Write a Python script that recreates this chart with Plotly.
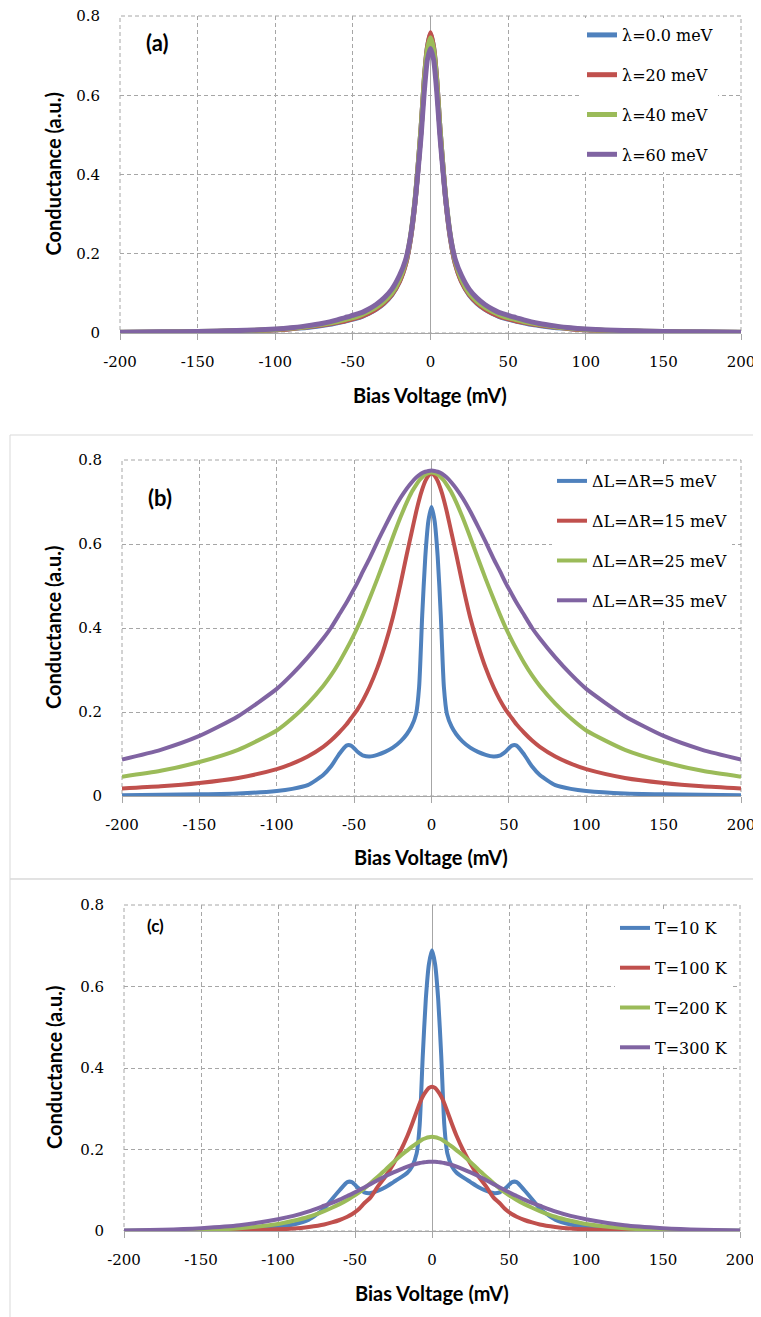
import plotly.graph_objects as go

# the page has an 8px body margin on the top/left, so the figure is shifted by it
W, H = 761, 1317
PAD = 8
FW, FH = W - PAD, H - PAD

# bias voltage grid (mV), same for every curve
bias_mv = [-200, -175, -150, -125, -100, -90, -80, -70, -65, -60, -55, -52, -48, -44, -40, -35, -30, -25, -20, -16, -13, -10, -8, -6, -4, -2,
           0, 2, 4, 6, 8, 10, 13, 16, 20, 25, 30, 35, 40, 44, 48, 52, 55, 60, 65, 70, 80, 90, 100, 125, 150, 175, 200]

# panel (a): spin-orbit lambda
names_a = ['λ=0.0 meV', 'λ=20 meV', 'λ=40 meV', 'λ=60 meV']
a_lam0 = [0.0015, 0.002, 0.003, 0.005, 0.008, 0.011, 0.014, 0.019, 0.022, 0.026, 0.03, 0.033, 0.037, 0.042, 0.049, 0.06, 0.075, 0.096, 0.13, 0.175, 0.235, 0.33, 0.42, 0.52, 0.64, 0.72,
          0.755, 0.72, 0.64, 0.52, 0.42, 0.33, 0.235, 0.175, 0.13, 0.096, 0.075, 0.06, 0.049, 0.042, 0.037, 0.033, 0.03, 0.026, 0.022, 0.019, 0.014, 0.011, 0.008, 0.005, 0.003, 0.002, 0.0015]
a_lam20 = [0.0015, 0.002, 0.003, 0.005, 0.008, 0.011, 0.015, 0.02, 0.023, 0.027, 0.031, 0.034, 0.038, 0.043, 0.05, 0.061, 0.076, 0.097, 0.13, 0.175, 0.235, 0.33, 0.42, 0.52, 0.64, 0.72,
           0.758, 0.72, 0.64, 0.52, 0.42, 0.33, 0.235, 0.175, 0.13, 0.097, 0.076, 0.061, 0.05, 0.043, 0.038, 0.034, 0.031, 0.027, 0.023, 0.02, 0.015, 0.011, 0.008, 0.005, 0.003, 0.002, 0.0015]
a_lam40 = [0.0018, 0.0025, 0.0035, 0.0055, 0.009, 0.012, 0.016, 0.022, 0.025, 0.029, 0.034, 0.037, 0.041, 0.047, 0.054, 0.065, 0.08, 0.1, 0.135, 0.18, 0.24, 0.335, 0.42, 0.52, 0.635, 0.715,
           0.745, 0.715, 0.635, 0.52, 0.42, 0.335, 0.24, 0.18, 0.135, 0.1, 0.08, 0.065, 0.054, 0.047, 0.041, 0.037, 0.034, 0.029, 0.025, 0.022, 0.016, 0.012, 0.009, 0.0055, 0.0035, 0.0025, 0.0018]
a_lam60 = [0.002, 0.003, 0.004, 0.006, 0.01, 0.013, 0.018, 0.024, 0.028, 0.033, 0.039, 0.042, 0.047, 0.052, 0.06, 0.072, 0.088, 0.11, 0.145, 0.185, 0.24, 0.33, 0.41, 0.5, 0.61, 0.69,
           0.718, 0.69, 0.61, 0.5, 0.41, 0.33, 0.24, 0.185, 0.145, 0.11, 0.088, 0.072, 0.06, 0.052, 0.047, 0.042, 0.039, 0.033, 0.028, 0.024, 0.018, 0.013, 0.01, 0.006, 0.004, 0.003, 0.002]

# panel (b): gap delta
names_b = ['ΔL=ΔR=5 meV', 'ΔL=ΔR=15 meV', 'ΔL=ΔR=25 meV', 'ΔL=ΔR=35 meV']
b_d5 = [0.002, 0.003, 0.004, 0.006, 0.012, 0.017, 0.026, 0.05, 0.07, 0.098, 0.12, 0.12, 0.106, 0.096, 0.094, 0.098, 0.105, 0.115, 0.13, 0.147, 0.165, 0.195, 0.26, 0.43, 0.57, 0.655,
        0.688, 0.655, 0.57, 0.43, 0.26, 0.195, 0.165, 0.147, 0.13, 0.115, 0.105, 0.098, 0.094, 0.096, 0.106, 0.12, 0.12, 0.098, 0.07, 0.05, 0.026, 0.017, 0.012, 0.006, 0.004, 0.003, 0.002]
b_d15 = [0.018, 0.023, 0.031, 0.043, 0.064, 0.077, 0.094, 0.117, 0.132, 0.15, 0.17, 0.185, 0.205, 0.23, 0.26, 0.305, 0.36, 0.425, 0.505, 0.575, 0.625, 0.675, 0.705, 0.73, 0.75, 0.763,
         0.768, 0.763, 0.75, 0.73, 0.705, 0.675, 0.625, 0.575, 0.505, 0.425, 0.36, 0.305, 0.26, 0.23, 0.205, 0.185, 0.17, 0.15, 0.132, 0.117, 0.094, 0.077, 0.064, 0.043, 0.031, 0.023, 0.018]
b_d25 = [0.046, 0.06, 0.081, 0.11, 0.156, 0.185, 0.22, 0.262, 0.287, 0.316, 0.349, 0.37, 0.4, 0.434, 0.47, 0.517, 0.566, 0.616, 0.664, 0.699, 0.722, 0.74, 0.751, 0.759, 0.765, 0.769,
         0.77, 0.769, 0.765, 0.759, 0.751, 0.74, 0.722, 0.699, 0.664, 0.616, 0.566, 0.517, 0.47, 0.434, 0.4, 0.37, 0.349, 0.316, 0.287, 0.262, 0.22, 0.185, 0.156, 0.11, 0.081, 0.06, 0.046]
b_d35 = [0.087, 0.11, 0.143, 0.19, 0.255, 0.29, 0.33, 0.375, 0.4, 0.43, 0.46, 0.48, 0.507, 0.537, 0.566, 0.605, 0.642, 0.678, 0.71, 0.732, 0.746, 0.758, 0.764, 0.769, 0.772, 0.774,
         0.775, 0.774, 0.772, 0.769, 0.764, 0.758, 0.746, 0.732, 0.71, 0.678, 0.642, 0.605, 0.566, 0.537, 0.507, 0.48, 0.46, 0.43, 0.4, 0.375, 0.33, 0.29, 0.255, 0.19, 0.143, 0.11, 0.087]

# panel (c): temperature
names_c = ['T=10 K', 'T=100 K', 'T=200 K', 'T=300 K']
c_t10 = [0.0008, 0.001, 0.002, 0.004, 0.01, 0.016, 0.028, 0.055, 0.078, 0.1, 0.12, 0.12, 0.106, 0.095, 0.093, 0.099, 0.108, 0.12, 0.132, 0.143, 0.158, 0.19, 0.26, 0.43, 0.57, 0.655,
         0.689, 0.655, 0.57, 0.43, 0.26, 0.19, 0.158, 0.143, 0.132, 0.12, 0.108, 0.099, 0.093, 0.095, 0.106, 0.12, 0.12, 0.1, 0.078, 0.055, 0.028, 0.016, 0.01, 0.004, 0.002, 0.001, 0.0008]
c_t100 = [0.0001, 0.0002, 0.0006, 0.0015, 0.004, 0.006, 0.01, 0.016, 0.021, 0.027, 0.035, 0.041, 0.052, 0.068, 0.082, 0.11, 0.135, 0.165, 0.2, 0.233, 0.262, 0.293, 0.313, 0.33, 0.342, 0.351,
          0.354, 0.351, 0.342, 0.33, 0.313, 0.293, 0.262, 0.233, 0.2, 0.165, 0.135, 0.11, 0.082, 0.068, 0.052, 0.041, 0.035, 0.027, 0.021, 0.016, 0.01, 0.006, 0.004, 0.0015, 0.0006, 0.0002, 0.0001]
c_t200 = [0.0005, 0.0012, 0.003, 0.007, 0.017, 0.025, 0.035, 0.049, 0.057, 0.066, 0.076, 0.083, 0.093, 0.104, 0.117, 0.134, 0.151, 0.169, 0.186, 0.198, 0.207, 0.215, 0.22, 0.225, 0.228, 0.23,
          0.231, 0.23, 0.228, 0.225, 0.22, 0.215, 0.207, 0.198, 0.186, 0.169, 0.151, 0.134, 0.117, 0.104, 0.093, 0.083, 0.076, 0.066, 0.057, 0.049, 0.035, 0.025, 0.017, 0.007, 0.003, 0.0012, 0.0005]
c_t300 = [0.001, 0.003, 0.007, 0.014, 0.029, 0.037, 0.048, 0.062, 0.069, 0.077, 0.086, 0.091, 0.099, 0.107, 0.115, 0.125, 0.135, 0.144, 0.152, 0.158, 0.162, 0.165, 0.167, 0.168, 0.169, 0.17,
          0.17, 0.17, 0.169, 0.168, 0.167, 0.165, 0.162, 0.158, 0.152, 0.144, 0.135, 0.125, 0.115, 0.107, 0.099, 0.091, 0.086, 0.077, 0.069, 0.062, 0.048, 0.037, 0.029, 0.014, 0.007, 0.003, 0.001]

x_ticks = [-200, -150, -100, -50, 0, 50, 100, 150, 200]
x_ticktext = ['-200', '-150', '-100', '-50', '0', '50', '100', '150', '200']
y_ticks = [0, 0.2, 0.4, 0.6, 0.8]
y_ticktext = ['0', '0.2', '0.4', '0.6', '0.8']

colors = ['#4F81BD', '#C0504D', '#9BBB59', '#8064A2']
grid_col = '#a6a6a6'
tick_font = dict(family='DejaVu Serif', size=15, color='black')
legend_font = dict(family='DejaVu Serif', size=16, color='black')
title_font = dict(family='Lato', size=20, color='black', weight='bold')


# page pixel -> paper fraction
def px_x(v):
    return (v - PAD) / FW


def px_y(v):
    return 1 - (v - PAD) / FH


# plot areas in page pixels (left, right, top, bottom) and where things sit
panels = [
    dict(series=[a_lam0, a_lam20, a_lam40, a_lam60], names=names_a, label='(a)', label_size=22,
         box=(120, 741, 16, 333), legend=(582, 18), label_xy=(157, 42), xtitle_y=395, ytitle_x=52, lw=5),
    dict(series=[b_d5, b_d15, b_d25, b_d35], names=names_b, label='(b)', label_size=22,
         box=(122, 741, 460, 796), legend=(552, 464), label_xy=(160, 497), xtitle_y=857, ytitle_x=53, lw=4),
    dict(series=[c_t10, c_t100, c_t200, c_t300], names=names_c, label='(c)', label_size=17,
         box=(124, 740, 905, 1231), legend=(615, 911), label_xy=(155, 925), xtitle_y=1293, ytitle_x=54, lw=4),
]

fig = go.Figure()
layout = dict(width=FW, height=FH, margin=dict(l=0, r=0, t=0, b=0),
              paper_bgcolor='white', plot_bgcolor='white', showlegend=True,
              annotations=[], shapes=[])

for i, p in enumerate(panels):
    n = '' if i == 0 else str(i + 1)
    leg = 'legend' + n
    left, right, top, bottom = p['box']

    for name, ys, col in zip(p['names'], p['series'], colors):
        fig.add_trace(go.Scatter(
            x=bias_mv, y=ys, name=name, mode='lines',
            line=dict(color=col, width=p['lw'], shape='spline', smoothing=0.6),
            xaxis='x' + n, yaxis='y' + n, legend=leg, legendgroup=leg + name,
        ))

    layout['xaxis' + n] = dict(
        domain=[px_x(left), px_x(right)], anchor='y' + n, automargin=False,
        range=[-200, 200], tickvals=x_ticks, ticktext=x_ticktext, showgrid=True,
        gridcolor=grid_col, griddash='4px,3px', gridwidth=1,
        zeroline=True, zerolinecolor=grid_col, zerolinewidth=1,
        showline=True, linecolor=grid_col, linewidth=1,
        ticks='outside', ticklen=6, tickcolor=grid_col,
        tickfont=tick_font, ticklabelstandoff=9, ticklabeloverflow='allow',
    )
    layout['yaxis' + n] = dict(
        domain=[px_y(bottom), px_y(top)], anchor='x' + n, automargin=False,
        range=[0, 0.8], tickvals=y_ticks, ticktext=y_ticktext, showgrid=True,
        gridcolor=grid_col, griddash='4px,3px', gridwidth=1,
        zeroline=False, showline=False, ticks='',
        tickfont=tick_font, ticklabelstandoff=19, ticklabeloverflow='allow',
    )

    # dashed frame on the top / left / right edges of the plot area
    layout['shapes'].append(dict(type='rect', xref='x' + n + ' domain', yref='y' + n + ' domain',
                                 x0=0, x1=1, y0=0, y1=1, layer='below',
                                 line=dict(color=grid_col, width=1, dash='4px,3px')))

    lx, ly = p['legend']
    layout[leg] = dict(
        x=px_x(lx), y=px_y(ly), xanchor='left', yanchor='top',
        bgcolor='white', borderwidth=0, font=legend_font,
        traceorder='grouped', tracegroupgap=16,
    )

    tx, ty = p['label_xy']
    layout['annotations'].append(dict(
        text=p['label'], x=px_x(tx), y=px_y(ty), xref='paper', yref='paper',
        xanchor='center', yanchor='middle', showarrow=False,
        font=dict(family='Lato', size=p['label_size'], color='black', weight='bold'),
    ))
    # axis titles
    layout['annotations'].append(dict(
        text='Bias Voltage (mV)', x=px_x((left + right) / 2), y=px_y(p['xtitle_y']),
        xref='paper', yref='paper', xanchor='center', yanchor='middle',
        showarrow=False, font=title_font,
    ))
    layout['annotations'].append(dict(
        text='Conductance (a.u.)', x=px_x(p['ytitle_x']), y=px_y((top + bottom) / 2),
        xref='paper', yref='paper', xanchor='center', yanchor='middle',
        showarrow=False, textangle=-90, font=title_font,
    ))

# light frames round panels (b) and (c)
layout['shapes'].append(dict(type='rect', xref='paper', yref='paper',
                             x0=px_x(10), x1=1.05, y0=px_y(879), y1=px_y(435),
                             line=dict(color='#d9d9d9', width=1)))
layout['shapes'].append(dict(type='rect', xref='paper', yref='paper',
                             x0=px_x(10), x1=1.05, y0=-0.05, y1=px_y(879),
                             line=dict(color='#d9d9d9', width=1)))

fig.update_layout(**layout)
fig.write_html('out.html')
